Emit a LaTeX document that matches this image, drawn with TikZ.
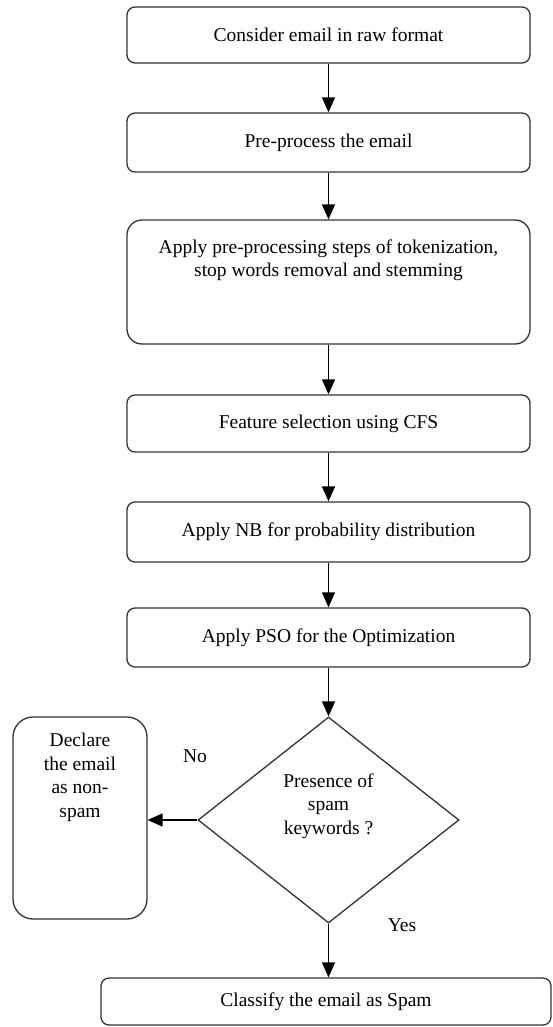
\documentclass[tikz,border=0pt]{standalone}
\usepackage{fontspec}
\setmainfont{Liberation Serif}
\usetikzlibrary{shapes.geometric,arrows.meta}
\tikzset{
  stepbox/.style={draw=black!80, line width=1.3pt, rounded corners=8pt, minimum width=403pt, inner sep=0pt},
  flow/.style={-{Triangle[width=13pt,length=15pt]}, line width=1.6pt},
}

\begin{document}
\begin{tikzpicture}[x=1pt,y=-1pt,font=\fontsize{19.5}{23.5}\selectfont]
\useasboundingbox (0,0) rectangle (553,1027);
\node[stepbox, minimum height=56pt] (raw) at (328.5,35) {Consider email in raw format};
\node[stepbox, minimum height=59pt] (pre) at (328.5,142.5) {Pre-process the email};
\node[stepbox, minimum height=124pt, rounded corners=15pt] (tok) at (328.5,282) {};
\node[align=center] (toktext) at (328.5,260) {Apply pre-processing steps of tokenization,\\ stop words removal and stemming};
\node[stepbox, minimum height=57pt] (cfs) at (328.5,423.5) {Feature selection using CFS};
\node[stepbox, minimum height=60pt] (nb) at (328.5,532) {Apply NB for probability distribution};
\node[stepbox, minimum height=59pt] (pso) at (328.5,637.5) {Apply PSO for the Optimization};
% decision
\node[diamond, draw=black!80, line width=1.3pt, minimum width=261pt, minimum height=206pt, inner sep=0pt] (spam) at (328.5,820) {};
\node[align=center] (spamtext) at (328.5,806) {Presence of\\ spam\\ keywords ?};
\node[stepbox, minimum width=134pt, minimum height=202pt, rounded corners=20pt] (nonspam) at (80,818) {};
\node[align=center] (nonspamtext) at (80,777.5) {Declare\\ the email\\ as non-\\ spam};
\node[stepbox, minimum width=450pt, minimum height=47pt] (class) at (326,1001.5) {Classify the email as Spam};
\node (no) at (195,756) {No};
\node (yes) at (402,925) {Yes};

\draw[flow] (raw) -- (pre);
\draw[flow] (pre) -- (tok);
\draw[flow] (tok) -- (cfs);
\draw[flow] (cfs) -- (nb);
\draw[flow] (nb) -- (pso);
\draw[flow] (pso) -- (spam);
\draw[flow] (spam.west) -- (spam.west -| nonspam.east);
\draw[flow] (spam) -- (class.north -| spam.south);
\end{tikzpicture}
\end{document}
